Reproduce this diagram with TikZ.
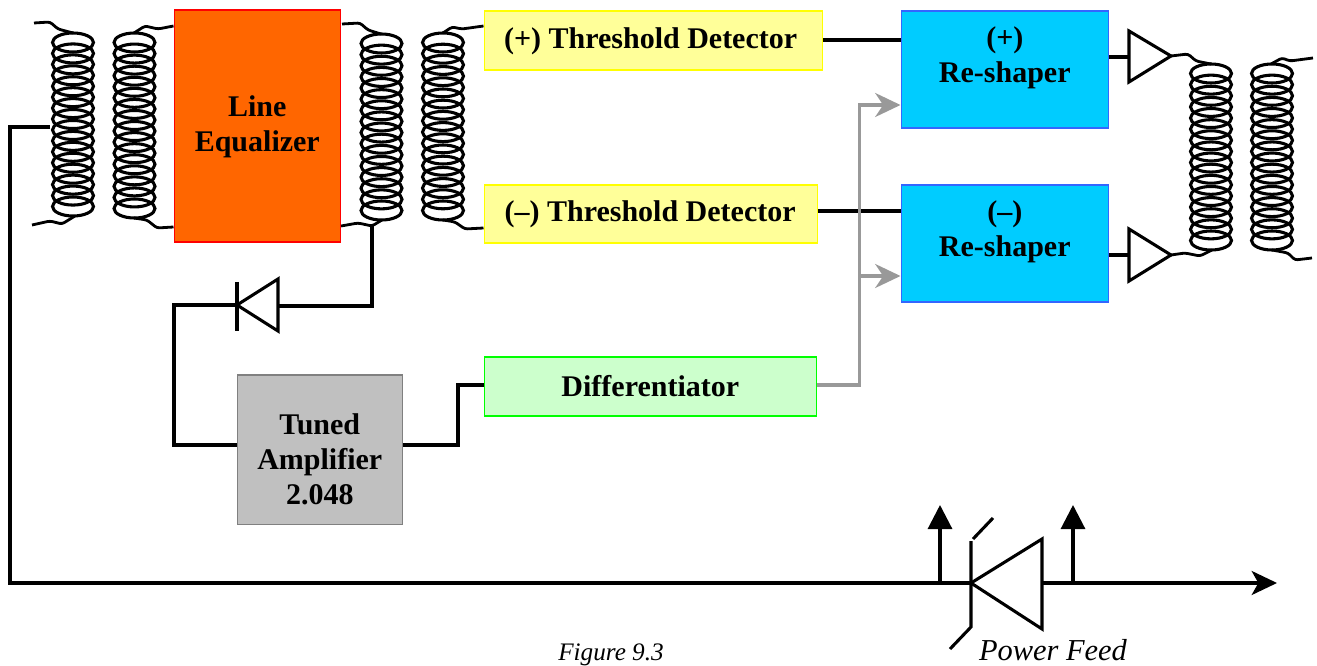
\documentclass[tikz,border=0pt]{standalone}
\usepackage{fontspec}
\setmainfont{Liberation Serif}
\usetikzlibrary{arrows.meta}
\tikzset{x=0.75pt,y=-0.75pt,
 wire/.style={line width=2.3pt,black,line join=miter},
 coilloop/.style={line width=2.3pt,black},
 lead/.style={line width=2.1pt,black,rounded corners=2pt},
 blockbox/.style={draw,line width=1.2pt,anchor=north west,inner sep=0pt,align=center,font=\bfseries\fontsize{22.5}{26}\selectfont},
 eqbox/.style={blockbox,draw=red,fill=eqorange},
 tdbox/.style={blockbox,draw=tdline,fill=tdfill},
 diffbox/.style={blockbox,draw=difline,fill=diffill},
 ampbox/.style={blockbox,draw=ampline,fill=ampfill},
 rsbox/.style={blockbox,draw=rsline,fill=rsfill},
 graywire/.style={line width=2.3pt,arrowgray},
 sym/.style={line width=2.3pt,black,line join=miter},
 figcap/.style={font=\itshape\fontsize{18.9}{20}\selectfont,inner sep=0pt}
}
\definecolor{eqorange}{HTML}{FF6600}
\definecolor{tdline}{HTML}{FFFF00}
\definecolor{tdfill}{HTML}{FFFF99}
\definecolor{difline}{HTML}{00FF00}
\definecolor{diffill}{HTML}{CCFFCC}
\definecolor{ampline}{HTML}{808080}
\definecolor{ampfill}{HTML}{C0C0C0}
\definecolor{rsline}{HTML}{3366FF}
\definecolor{rsfill}{HTML}{00CCFF}
\definecolor{arrowgray}{HTML}{999999}
% centre x, top y, bottom y
\newcommand{\coilat}[3]{%
 \foreach \k in {0,...,15}{%
  \pgfmathsetmacro{\cy}{#2+9.5+(#3-#2-19)*\k/15}
  \draw[coilloop] (#1,\cy) ellipse [x radius=20.5,y radius=9.5];
 }}
\begin{document}
\begin{tikzpicture}
\useasboundingbox (0,0) rectangle (1317,666);
% coils
\coilat{73}{33}{216}
\coilat{134.5}{33}{218}
\coilat{381.5}{34}{220}
\coilat{443}{33}{220}
\coilat{1211}{64}{250}
\coilat{1272}{64}{250}
% boxes
\node[eqbox,minimum width=166*0.75pt,minimum height=232*0.75pt] (eq) at (173.5,9.5) {\rule{0pt}{16pt}Line\\Equalizer};
\node[tdbox,minimum width=338*0.75pt,minimum height=59*0.75pt] (tdp) at (483.5,10.5) {(+) Threshold Detector\hspace*{4pt}};
\node[tdbox,minimum width=333*0.75pt,minimum height=58*0.75pt] (tdm) at (483.5,184.5) {(--) Threshold Detector\hspace*{1pt}};
\node[diffbox,minimum width=332*0.75pt,minimum height=59*0.75pt] (dif) at (483.5,356.5) {\raisebox{1pt}{Differentiator}};
\node[ampbox,minimum width=165*0.75pt,minimum height=149*0.75pt] (amp) at (236.5,374.5) {\rule{0pt}{30pt}Tuned\\Amplifier\\2.048};
\node[rsbox,minimum width=207*0.75pt,minimum height=117*0.75pt] (rsp) at (900.5,10.5) {(+)\\Re-shaper\\[-3.5pt]};
\node[rsbox,minimum width=207*0.75pt,minimum height=117*0.75pt] (rsm) at (900.5,184.5) {(--)\\Re-shaper\\[-3.5pt]};
% transformer leads
\draw[lead] (34,23) -- (50,22) -- (58,29) -- (73,33);
\draw[lead] (32,225) -- (50,221) -- (62,224) -- (75,216);
\draw[lead] (eq.north west |- 0,26) -- (158,29) -- (145,26) -- (134,33);
\draw[lead] (eq.south west |- 0,227) -- (157,228) -- (147,220) -- (134,218);
\draw[lead] (342,24) -- (360,23) -- (368,30) -- (381,34);
\draw[lead] (eq.south east |- 0,226) -- (358,223) -- (372,226) -- (382,220);
\draw[lead] (tdp.west |- 0,26) -- (462,29) -- (452,27) -- (443,33);
\draw[lead] (tdm.west |- 0,228) -- (465,229) -- (455,222) -- (443,220);
\draw[lead] (1171,56) -- (1188,54) -- (1196,61) -- (1211,64);
\draw[lead] (1171,255) -- (1185,253) -- (1200,256) -- (1212,250);
\draw[lead] (1271,64) -- (1282,58) -- (1290,61) -- (1313,58);
\draw[lead] (1272,250) -- (1288,253) -- (1295,260) -- (1312,258);
% amplifiers
\draw[sym] (1129,31) -- (1129,82) -- (1171,56) -- cycle;
\draw[sym] (1129,229) -- (1129,281) -- (1171,255) -- cycle;
\draw[wire] (tdp.east |- 0,40) -- (rsp.west |- 0,40);
\draw[wire] (tdm.east |- 0,211) -- (rsm.west |- 0,211);
\draw[wire] (rsp.east |- 0,57) -- (1129,57);
\draw[wire] (rsm.east |- 0,255) -- (1129,255);
% differentiator to re-shapers
\draw[graywire,-{Stealth[length=19pt,width=18pt,inset=6pt]}] (dif.east |- 0,385) -- (859.5,385) -- (859.5,105) -- (rsp.west |- 0,105);
\draw[graywire,-{Stealth[length=19pt,width=18pt,inset=6pt]}] (859.5,276) -- (rsm.west |- 0,276);
% rectifier path
\draw[wire] (372,226) -- (372,306) -- (278,306);
\draw[sym] (278,279) -- (278,331) -- (237,305) -- cycle;
\draw[wire] (237,282) -- (237,331);
\draw[wire] (237,305) -- (174,305) -- (174,445) -- (amp.west |- 0,445);
\draw[wire] (amp.east |- 0,445) -- (458,445) -- (458,385) -- (dif.west |- 0,385);
% power feed
\draw[wire,-{Stealth[length=19pt,width=18pt,inset=5pt]}] (50,127) -- (10,127) -- (10,583) -- (1277,583);
\draw[wire,-{Triangle[length=18pt,width=18pt]}] (940,583) -- (940,505);
\draw[wire,-{Triangle[length=18pt,width=18pt]}] (1073,583) -- (1073,505);
\draw[sym,fill=white] (971,583) -- (1042,539) -- (1042,629) -- cycle;
\draw[wire] (971,541) -- (971,627) -- (950,649);
\draw[wire] (973,539) -- (993,518);
% captions
\node[figcap] (fig) at (611,655) {Figure 9.3};
\node[figcap,font=\itshape\fontsize{22.8}{24}\selectfont] (pf) at (1053,650) {Power Feed};
\end{tikzpicture}
\end{document}
